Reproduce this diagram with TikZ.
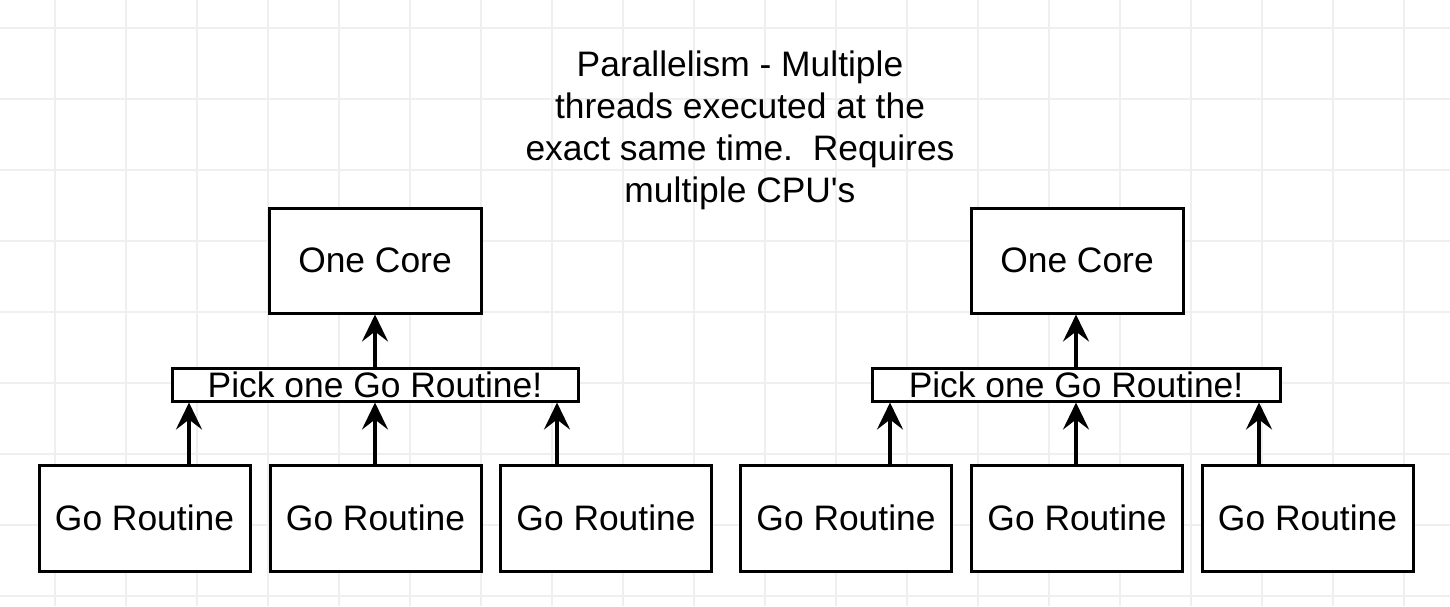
\documentclass[tikz,border=0pt]{standalone}
\usepackage{fontspec}
\setmainfont{Liberation Sans}
\newfontfamily\plainfont{Liberation Sans}
\usetikzlibrary{arrows.meta}
\definecolor{gridc}{HTML}{EFEFEF}
\tikzset{
  bx/.style={draw=black, line width=1.5pt, fill=white, inner sep=0pt, font=\plainfont\fontsize{17.7}{21}\selectfont},
  corebox/.style={bx, minimum width=106pt, minimum height=52.5pt},
  gobox/.style={bx, minimum width=105.5pt, minimum height=53pt},
  pickbox/.style={bx, minimum width=203pt, minimum height=16.5pt},
  arr/.style={line width=1.9pt, -{Stealth[length=13.5pt,width=13pt,inset=5pt]}},
}
\begin{document}
\begin{tikzpicture}[x=0.5pt,y=-0.5pt]
\useasboundingbox (0,0) rectangle (1450,606);
\fill[white] (0,0) rectangle (1450,606);
\foreach \x in {55,126,...,1450} \draw[gridc, line width=0.6pt] (\x,0) -- (\x,606);
\foreach \y in {28,99,...,606} \draw[gridc, line width=0.6pt] (0,\y) -- (1450,\y);

\node[align=center, font=\plainfont\fontsize{17.7}{21}\selectfont] (title) at (740,130)
  {Parallelism - Multiple\\threads executed at the\\exact same time.\ \ Requires\\multiple CPU's};

% left group
\node[corebox] (c1) at (375,260.5) {One Core};
\node[pickbox] (p1) at (375,384.5) {Pick one Go Routine!};
\node[gobox] (g1) at (144.5,518) {Go Routine};
\node[gobox] (g2) at (375.5,518) {Go Routine};
\node[gobox] (g3) at (606,518) {Go Routine};
\draw[arr] (p1.north) -- (c1.south);
\draw[arr] (g1.north -| 189,0) -- (p1.south -| 189,0);
\draw[arr] (g2.north -| 375,0) -- (p1.south -| 375,0);
\draw[arr] (g3.north -| 557,0) -- (p1.south -| 557,0);

% right group
\node[corebox] (c2) at (1077,260.5) {One Core};
\node[pickbox, minimum width=204pt] (p2) at (1076,384.5) {Pick one Go Routine!};
\node[gobox] (g4) at (846,518) {Go Routine};
\node[gobox] (g5) at (1077,518) {Go Routine};
\node[gobox] (g6) at (1307.5,518) {Go Routine};
\draw[arr] (p2.north -| 1076,0) -- (c2.south -| 1076,0);
\draw[arr] (g4.north -| 890,0) -- (p2.south -| 890,0);
\draw[arr] (g5.north -| 1076,0) -- (p2.south -| 1076,0);
\draw[arr] (g6.north -| 1259,0) -- (p2.south -| 1259,0);
\end{tikzpicture}
\end{document}
